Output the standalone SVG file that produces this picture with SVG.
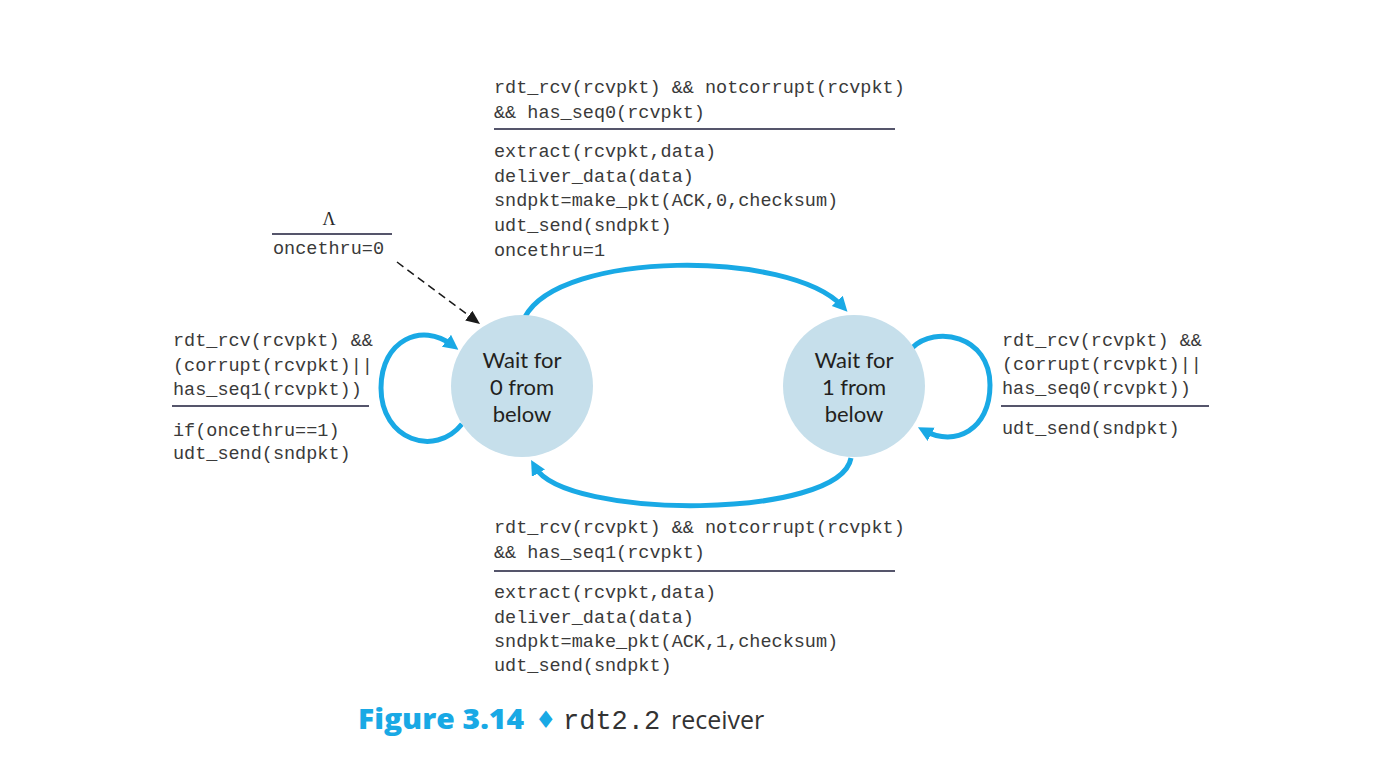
<svg xmlns="http://www.w3.org/2000/svg" width="1378" height="768" viewBox="0 0 1378 768">
<style>
.m{font-family:"Liberation Mono","DejaVu Sans Mono",monospace;font-size:18.5px;fill:#3a3a3a}
.st{font-family:Lato,"Open Sans",sans-serif;font-size:22px;fill:#231f20;text-anchor:middle}
.sep{stroke:#1c1c3a;stroke-width:1.5}
.state{fill:#c6dfeb}
.tr{fill:none;stroke:#19a9e5;stroke-width:5}
</style>
<defs>
<marker id="ab" markerUnits="userSpaceOnUse" markerWidth="16" markerHeight="16" refX="7" refY="7.5" orient="auto" viewBox="0 0 16 16">
<path d="M0,0 L15,7.5 L0,15 z" fill="#19a9e5"/>
</marker>
<marker id="ak" markerUnits="userSpaceOnUse" markerWidth="15" markerHeight="13" refX="6" refY="6" orient="auto" viewBox="0 0 15 13">
<path d="M0,0 L14,6 L0,12 z" fill="#1a1a1a"/>
</marker>
</defs>
<rect width="1378" height="768" fill="#ffffff"/>

<g id="connectors">
<path class="tr" d="M525 317 C560 250 790 250 842 306" marker-end="url(#ab)"/>
<path class="tr" d="M851 458 C840 520 565 520 535 467" marker-end="url(#ab)"/>
<path class="tr" d="M462 424 C435 458 381 440 381 388 C381 340 422 322 452 345" marker-end="url(#ab)"/>
<path class="tr" d="M912 348 C935 325 990 335 990 385 C990 430 955 447 925 431" marker-end="url(#ab)"/>
<path d="M397 262 L473.6 319.2" fill="none" stroke="#1a1a1a" stroke-width="1.5" stroke-dasharray="8 5" marker-end="url(#ak)"/>
</g>

<g id="state0">
<circle class="state" cx="522" cy="386" r="71"/>
<text class="st" x="522" y="368">Wait for<tspan x="522" dy="26.8">0 from</tspan><tspan x="522" dy="26.8">below</tspan></text>
</g>

<g id="state1">
<circle class="state" cx="854" cy="386" r="71"/>
<text class="st" x="854" y="368">Wait for<tspan x="854" dy="26.8">1 from</tspan><tspan x="854" dy="26.8">below</tspan></text>
</g>

<g id="label-top">
<text class="m" x="494" y="93">rdt_rcv(rcvpkt) &amp;&amp; notcorrupt(rcvpkt)</text>
<text class="m" x="494" y="118">&amp;&amp; has_seq0(rcvpkt)</text>
<line class="sep" x1="494" y1="129" x2="895" y2="129"/>
<text class="m" x="494" y="157">extract(rcvpkt,data)</text>
<text class="m" x="494" y="182">deliver_data(data)</text>
<text class="m" x="494" y="206">sndpkt=make_pkt(ACK,0,checksum)</text>
<text class="m" x="494" y="231">udt_send(sndpkt)</text>
<text class="m" x="494" y="256">oncethru=1</text>
</g>

<g id="label-init">
<text x="329" y="225" font-family="Liberation Serif, serif" font-size="18" fill="#2a2a2a" text-anchor="middle">Λ</text>
<line class="sep" x1="272" y1="234" x2="392" y2="234"/>
<text class="m" x="273" y="254">oncethru=0</text>
</g>

<g id="label-left">
<text class="m" x="173" y="346">rdt_rcv(rcvpkt) &amp;&amp;</text>
<text class="m" x="173" y="371">(corrupt(rcvpkt)||</text>
<text class="m" x="173" y="395">has_seq1(rcvpkt))</text>
<line class="sep" x1="172" y1="406" x2="369" y2="406"/>
<text class="m" x="173" y="436">if(oncethru==1)</text>
<text class="m" x="173" y="459">udt_send(sndpkt)</text>
</g>

<g id="label-right">
<text class="m" x="1002" y="346">rdt_rcv(rcvpkt) &amp;&amp;</text>
<text class="m" x="1002" y="370">(corrupt(rcvpkt)||</text>
<text class="m" x="1002" y="394">has_seq0(rcvpkt))</text>
<line class="sep" x1="1001" y1="406" x2="1209" y2="406"/>
<text class="m" x="1002" y="434">udt_send(sndpkt)</text>
</g>

<g id="label-bottom">
<text class="m" x="494" y="533">rdt_rcv(rcvpkt) &amp;&amp; notcorrupt(rcvpkt)</text>
<text class="m" x="494" y="558">&amp;&amp; has_seq1(rcvpkt)</text>
<line class="sep" x1="494" y1="571" x2="895" y2="571"/>
<text class="m" x="494" y="598">extract(rcvpkt,data)</text>
<text class="m" x="494" y="623">deliver_data(data)</text>
<text class="m" x="494" y="647">sndpkt=make_pkt(ACK,1,checksum)</text>
<text class="m" x="494" y="671">udt_send(sndpkt)</text>
</g>

<g id="caption">
<text x="358" y="729" font-family="Open Sans, Noto Sans, sans-serif" font-weight="800" font-size="28" fill="#19a9e5" textLength="166" lengthAdjust="spacingAndGlyphs">Figure 3.14</text>
<text x="535" y="728" font-family="DejaVu Sans, sans-serif" font-size="24" fill="#19a9e5">♦</text>
<text x="563" y="729" font-family="Liberation Mono, monospace" font-size="27" fill="#333333">rdt2.2</text>
<text x="671" y="729" font-family="Open Sans, Noto Sans, sans-serif" font-size="25" fill="#333333">receiver</text>
</g>
</svg>
